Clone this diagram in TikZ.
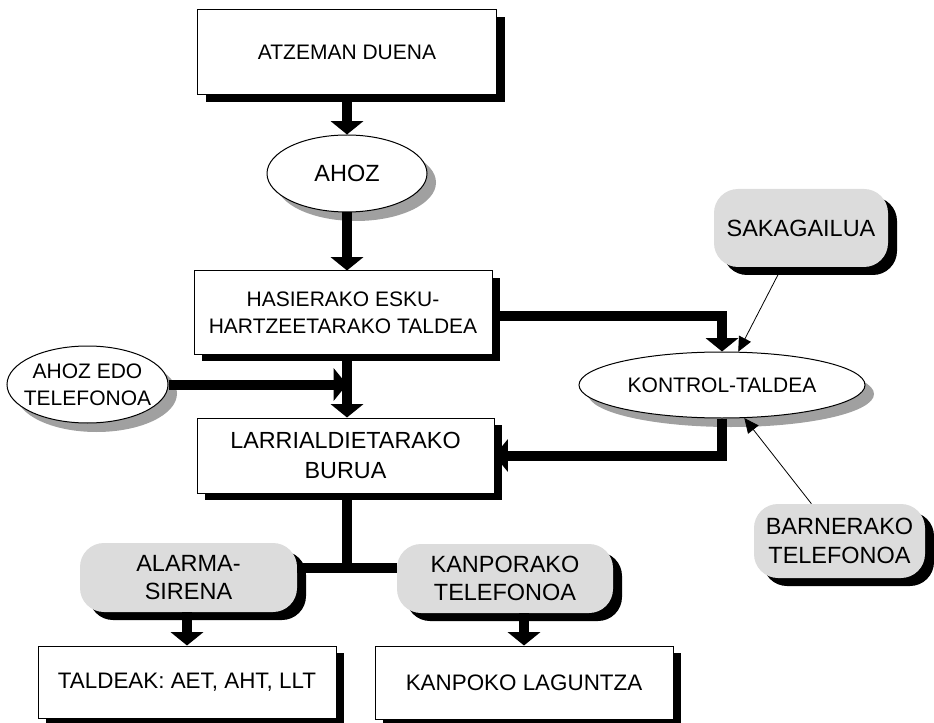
\documentclass[tikz,border=0pt]{standalone}
\usepackage{fontspec}
\setmainfont{Liberation Sans}
\usetikzlibrary{shapes.geometric,arrows.meta,shadows}
\definecolor{boxgray}{HTML}{DCDCDC}
\definecolor{shadegray}{HTML}{A0A0A0}
\begin{document}
\begin{tikzpicture}[x=0.75pt,y=-0.75pt,
  every node/.style={font=\fontsize{15.75}{20}\selectfont, align=center, inner sep=0pt},
  fmid/.style={font=\fontsize{16.8}{21}\selectfont},
  fbig/.style={font=\fontsize{17.6}{21.5}\selectfont},
  plainbox/.style={rectangle, draw, line width=0.75pt, fill=white,
    drop shadow={shadow xshift=6pt, shadow yshift=-5.5pt, fill=black, opacity=1}},
  ovalbox/.style={ellipse, draw, line width=0.75pt, fill=white,
    drop shadow={shadow xshift=6.75pt, shadow yshift=-6.75pt, fill=shadegray, opacity=1}},
  softbox/.style={rectangle, rounded corners=18pt, fill=boxgray,
    drop shadow={shadow xshift=6.75pt, shadow yshift=-6pt, fill=black, opacity=1}},
  bigarrow/.style={line width=7.5pt, -{Triangle[length=10pt,width=24pt]}},
  bigline/.style={line width=7.5pt},
  thinarrow/.style={line width=0.6pt, -{Triangle[length=11pt,width=10pt]}}
]
\useasboundingbox (0,0) rectangle (934,723);

% nodes
\node[plainbox, minimum width=224.25pt, minimum height=63.75pt] (atz) at (347,52.5) {ATZEMAN DUENA};
\node[ovalbox, fbig, minimum width=120pt, minimum height=57.75pt] (ahoz) at (347,173.5) {\makebox[0pt]{AHOZ}};
\node[plainbox, minimum width=223.5pt, minimum height=62.25pt] (has) at (343,312.5) {HASIERAKO ESKU-\\HARTZEETARAKO TALDEA};
\node[ovalbox, minimum width=120.75pt, minimum height=57.75pt] (ahozedo) at (87.5,384.5) {\makebox[0pt]{AHOZ EDO}\\\makebox[0pt]{TELEFONOA}};
\node[plainbox, font=\fontsize{17.5}{22.5}\selectfont, minimum width=222.75pt, minimum height=56.25pt] (larr) at (345.5,455.5) {LARRIALDIETARAKO\\BURUA};
\node[ovalbox, minimum width=214.5pt, minimum height=49.5pt] (kontrol) at (722,385) {\makebox[0pt]{KONTROL-TALDEA}};
\node[softbox, fbig, minimum width=130.5pt, minimum height=58.5pt] (sak) at (801,228) {SAKAGAILUA};
\node[softbox, fbig, minimum width=128.25pt, minimum height=55.5pt] (barn) at (839.5,541) {BARNERAKO\\TELEFONOA};
\node[softbox, fbig, minimum width=162.75pt, minimum height=51.75pt] (alarma) at (188.5,577.5) {ALARMA-\\SIRENA};
\node[softbox, fbig, minimum width=162pt, minimum height=51.75pt] (kanp) at (505,578.5) {KANPORAKO\\TELEFONOA};
\node[plainbox, fmid, minimum width=223.5pt, minimum height=54pt] (taldeak) at (187,682) {TALDEAK: AET, AHT, LLT};
\node[plainbox, fmid, minimum width=223.5pt, minimum height=54.75pt] (kanpoko) at (524,682.5) {KANPOKO LAGUNTZA};
\coordinate (j) at (347,568);

% connectors
\draw[bigarrow] (atz.south -| ahoz.north) -- (ahoz.north);
\draw[bigarrow] (ahoz.south) -- (ahoz.south |- has.north);
\draw[bigarrow] (ahoz.south |- has.south) -- (ahoz.south |- larr.north);
\draw[bigarrow] (ahozedo.east) -- (ahozedo.east -| ahoz.south);
\draw[bigarrow] ([yshift=-2.6pt]has.east) -| (kontrol.north);
\draw[bigarrow] (kontrol.south) |- (larr.east);
\draw[thinarrow] (sak.244) -- (kontrol.64);
\draw[thinarrow] (barn.127) -- (kontrol.-56);
\draw[bigline] (larr.south -| j) -- (j);
\draw[bigline] (alarma.east |- j) -- (kanp.west |- j);
\draw[bigarrow] (alarma.south -| taldeak.north) -- (taldeak.north);
\draw[bigarrow] (kanp.south -| kanpoko.north) -- (kanpoko.north);
\end{tikzpicture}
\end{document}
